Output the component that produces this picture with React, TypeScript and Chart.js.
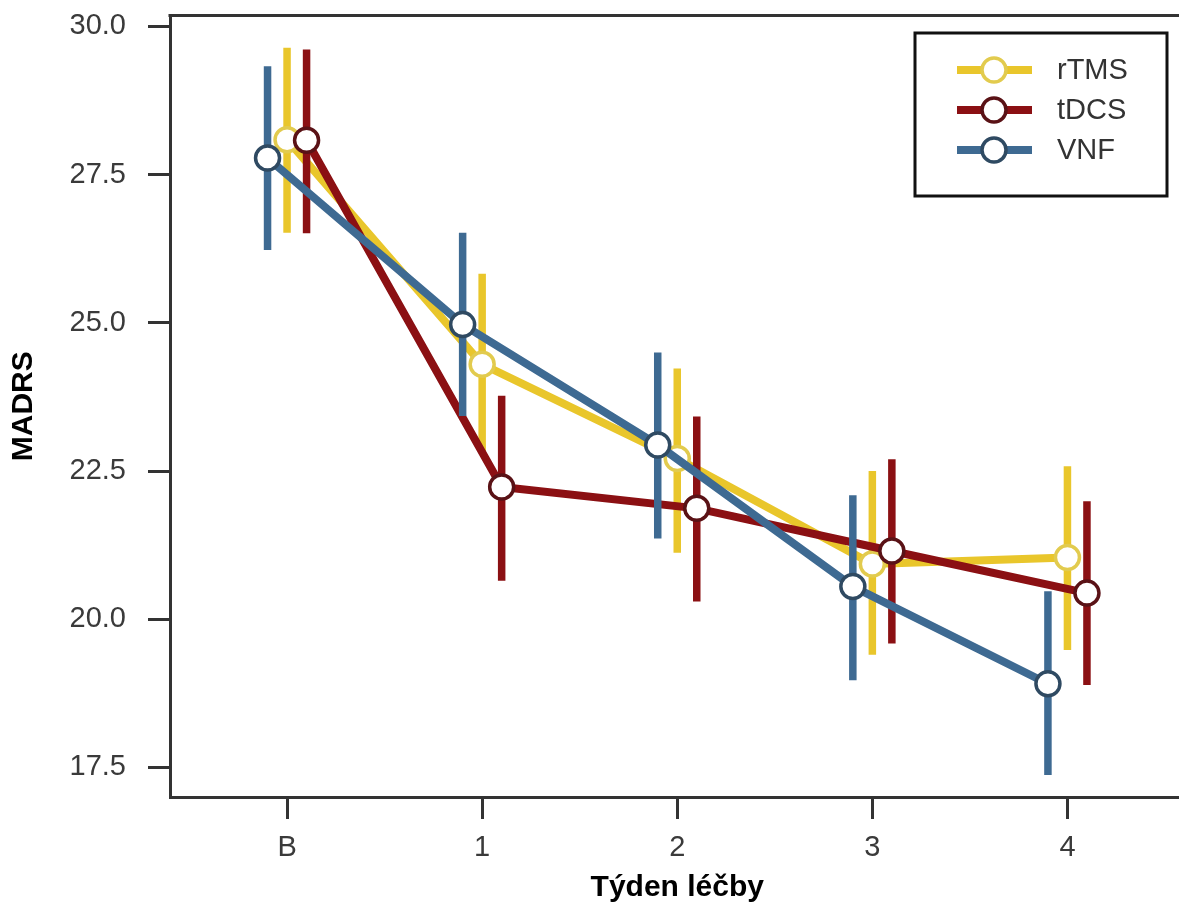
import React, { useEffect, useRef } from "react";
import { Chart, registerables } from "chart.js";

Chart.register(...registerables);

// ---- data ----
const categories = ["B", "1", "2", "3", "4"];
const yTickValues = [17.5, 20.0, 22.5, 25.0, 27.5, 30.0];
const seriesNames = ["rTMS", "tDCS", "VNF"];

const rTMSMean = [28.09, 24.3, 22.71, 20.93, 21.04];
const rTMSLow = [26.52, 22.82, 21.12, 19.4, 19.48];
const rTMSHigh = [29.64, 25.83, 24.23, 22.5, 22.58];

const tDCSMean = [28.08, 22.23, 21.87, 21.15, 20.44];
const tDCSLow = [26.51, 20.65, 20.3, 19.59, 18.89];
const tDCSHigh = [29.61, 23.77, 23.42, 22.7, 21.99];

const vnfMean = [27.78, 24.97, 22.94, 20.55, 18.91];
const vnfLow = [26.23, 23.43, 21.36, 18.97, 17.37];
const vnfHigh = [29.33, 26.52, 24.5, 22.09, 20.47];

const dodge = [0, 0.1, -0.1];
const lineColors = ["#E9C62B", "#8B1013", "#3E6A92"];
const markerBorders = ["#E2CB4E", "#5A1216", "#2F4A62"];

const means = [rTMSMean, tDCSMean, vnfMean];
const lows = [rTMSLow, tDCSLow, vnfLow];
const highs = [rTMSHigh, tDCSHigh, vnfHigh];

const FONT = "'Liberation Sans', Arial, Helvetica, sans-serif";

const errorBarPlugin = {
  id: "errorBars",
  beforeDatasetDraw(chart: any, args: any) {
    const ds = chart.data.datasets[args.index];
    const xs = chart.scales.x;
    const ys = chart.scales.y;
    const ctx = chart.ctx;
    ctx.save();
    ctx.strokeStyle = ds.borderColor;
    ctx.lineWidth = 7.5;
    ctx.lineCap = "butt";
    ds.data.forEach((p: any, i: number) => {
      const x = xs.getPixelForValue(p.x);
      ctx.beginPath();
      ctx.moveTo(x, ys.getPixelForValue(ds.errLow[i]));
      ctx.lineTo(x, ys.getPixelForValue(ds.errHigh[i]));
      ctx.stroke();
    });
    ctx.restore();
  },
};

const framePlugin = {
  id: "frame",
  beforeDatasetsDraw(chart: any) {
    const { ctx, chartArea } = chart;
    ctx.save();
    ctx.strokeStyle = "#333333";
    ctx.lineWidth = 3;
    ctx.beginPath();
    ctx.moveTo(chartArea.left - 1.5, chartArea.top);
    ctx.lineTo(chartArea.right, chartArea.top);
    ctx.stroke();
    ctx.restore();
  },
};

const legendPlugin = {
  id: "customLegend",
  afterDraw(chart: any) {
    const ctx = chart.ctx;
    ctx.save();
    const bx = 915, by = 33, bw = 252, bh = 163;
    ctx.strokeStyle = "#111";
    ctx.lineWidth = 3;
    ctx.strokeRect(bx, by, bw, bh);
    seriesNames.forEach((name, i) => {
      const cy = 70 + i * 40;
      ctx.strokeStyle = lineColors[i];
      ctx.lineWidth = 8;
      ctx.beginPath();
      ctx.moveTo(957, cy);
      ctx.lineTo(1032, cy);
      ctx.stroke();
      ctx.beginPath();
      ctx.arc(994, cy, 12, 0, Math.PI * 2);
      ctx.fillStyle = "#fff";
      ctx.fill();
      ctx.lineWidth = 3.5;
      ctx.strokeStyle = markerBorders[i];
      ctx.stroke();
      ctx.fillStyle = "#333";
      ctx.font = `29px ${FONT}`;
      ctx.textBaseline = "middle";
      ctx.textAlign = "left";
      ctx.fillText(name, 1057, cy + 1);
    });
    ctx.restore();
  },
};

export default function App() {
  const ref = useRef<HTMLCanvasElement | null>(null);

  useEffect(() => {
    if (!ref.current) return;
    const datasets = seriesNames.map((name, s) => ({
      label: name,
      data: categories.map((_, i) => ({ x: i + dodge[s], y: means[s][i] })),
      errLow: lows[s],
      errHigh: highs[s],
      borderColor: lineColors[s],
      backgroundColor: "#ffffff",
      borderWidth: 8,
      tension: 0,
      pointRadius: 12,
      pointBorderWidth: 3.5,
      pointBackgroundColor: "#ffffff",
      pointBorderColor: markerBorders[s],
      order: 2 - s,
    }));

    const chart = new Chart(ref.current, {
      type: "line",
      data: { datasets } as any,
      plugins: [errorBarPlugin, framePlugin, legendPlugin],
      options: {
        responsive: false,
        animation: false,
        events: [],
        layout: { padding: { top: 11, right: 10, left: 0, bottom: 0 } },
        font: { family: FONT },
        plugins: { legend: { display: false }, tooltip: { enabled: false } },
        scales: {
          x: {
            type: "linear",
            min: -0.6,
            max: 4.6,
            afterBuildTicks: (s: any) => {
              s.ticks = categories.map((_, i) => ({ value: i }));
            },
            afterFit: (s: any) => {
              s.height = 114;
              s.paddingLeft = 0;
              s.paddingRight = 0;
            },
            ticks: {
              callback: (v: any) => categories[Math.round(v)] ?? "",
              font: { size: 29, family: FONT },
              color: "#3a3a3a",
              padding: 12,
              maxRotation: 0,
              autoSkip: false,
            },
            grid: {
              drawOnChartArea: false,
              drawTicks: true,
              tickLength: 22,
              tickWidth: 3,
              tickColor: "#333",
            },
            border: { display: true, color: "#333", width: 3 },
            title: {
              display: true,
              text: "Týden léčby",
              font: { size: 30, weight: "bold", family: FONT },
              color: "#000",
              padding: { top: 0, bottom: 5 },
            },
          },
          y: {
            type: "linear",
            min: 17.0,
            max: 30.185,
            afterBuildTicks: (s: any) => {
              s.ticks = yTickValues.map((v) => ({ value: v }));
            },
            afterFit: (s: any) => {
              s.width = 170;
              s.paddingTop = 0;
              s.paddingBottom = 0;
            },
            ticks: {
              callback: (v: any) => Number(v).toFixed(1),
              font: { size: 29, family: FONT },
              color: "#3a3a3a",
              padding: 22,
            },
            grid: {
              drawOnChartArea: false,
              drawTicks: true,
              tickLength: 22,
              tickWidth: 3,
              tickColor: "#333",
            },
            border: { display: true, color: "#333", width: 3 },
            title: {
              display: true,
              text: "MADRS",
              font: { size: 30, weight: "bold", family: FONT },
              color: "#000",
              padding: { top: 6, bottom: 0 },
            },
          },
        },
      } as any,
    });
    return () => chart.destroy();
  }, []);

  return (
    <div
      style={{
        position: "absolute",
        left: 0,
        top: 0,
        width: 1179,
        height: 911,
        overflow: "hidden",
        background: "#fff",
      }}
    >
      <canvas ref={ref} width={1200} height={911} style={{ display: "block" }} />
    </div>
  );
}
